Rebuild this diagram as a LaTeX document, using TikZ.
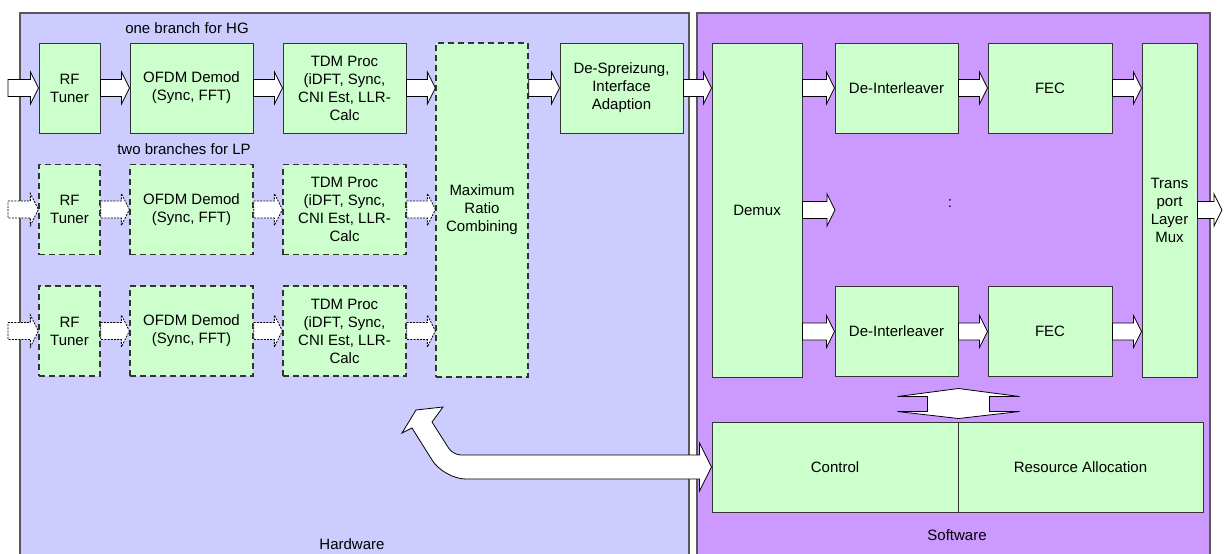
\documentclass[tikz,border=0pt]{standalone}
\usepackage{fontspec}
\setmainfont{Liberation Sans}
\usetikzlibrary{calc}
\definecolor{hwfill}{HTML}{CCCCFF}
\definecolor{swfill}{HTML}{CC99FF}
\definecolor{blkfill}{HTML}{CCFFCC}
\definecolor{edge}{HTML}{333333}
% block arrow from #2 to the x of #3, at the height of #2
\newcommand\blockarrow[3][]{%
  \draw[blockarr,#1] let \p1=(#2), \p2=(#3) in
    (\x1,\y1+4.25pt) -- (\x2-4pt,\y1+4.25pt) -- (\x2-4pt,\y1+8pt) -- (\x2,\y1)
    -- (\x2-4pt,\y1-8pt) -- (\x2-4pt,\y1-4.25pt) -- (\x1,\y1-4.25pt) -- cycle;}
\begin{document}
\begin{tikzpicture}[x=.5pt,y=-.5pt,line width=.5pt,
  font=\fontsize{7.5}{9}\selectfont,
  panel/.style={draw=black!65,line width=.6pt},
  blk/.style={draw=edge,fill=blkfill,inner sep=0pt,align=center,minimum height=45pt},
  dashblk/.style={blk,line width=.65pt,dash pattern=on 3pt off 2pt},
  blockarr/.style={draw=black,fill=white,line width=.4pt},
  dotarr/.style={dash pattern=on 1pt off .6pt}]
  \useasboundingbox (0,0) rectangle (1226,553);
  \clip (0,0) rectangle (1226,553);
  % hardware / software panels
  \draw[panel,fill=hwfill] (20,13) rectangle (689,580);
  \draw[panel,fill=swfill] (697,13) rectangle (1210,580);
  \node (hwlabel) at (352,544) {Hardware};
  \node (swlabel) at (957,535) {Software};
  \node (hglabel) at (187,28) {one branch for HG};
  \node (lplabel) at (184,149) {two branches for LP};
  % combining and the software chain
  \node[dashblk,minimum width=46pt,minimum height=167pt] (mrc) at (482,210)
    {Maximum\\Ratio\\Combining};
  \node[blk,minimum width=61.5pt] (desp) at (621.5,88)
    {De-Spreizung,\\Interface\\Adaption};
  \node[blk,minimum width=45pt,minimum height=167pt] (demux) at (757,210) {Demux};
  \node[blk,minimum width=27.5pt,minimum height=167pt] (mux) at (1169.5,210)
    {Trans\\port\\Layer\\Mux};
  \foreach \r/\cy in {1/88,2/331.5}{
    \node[blk,minimum width=61.5pt] (deint\r) at (896.5,\cy) {De-Interleaver};
    \node[blk,minimum width=62pt] (fec\r) at (1050,\cy) {FEC};
    \blockarrow{demux.east|-deint\r.west}{deint\r.west}
    \blockarrow{deint\r.east}{fec\r.west}
    \blockarrow{fec\r.east}{mux.west}
  }
  \node (dots) at (950,204) {:};
  \coordinate (midend) at (835,210);
  \coordinate (out) at (1222,210);
  \blockarrow{demux.east}{midend}
  \blockarrow{mux.east}{out}
  \blockarrow{mrc.east|-desp.west}{desp.west}
  \blockarrow{desp.east}{demux.west}
  % receiver branches
  \foreach \r/\cy/\sty/\asty in {1/88/blk/solid,2/209.5/dashblk/dotarr,3/331/dashblk/dotarr}{
    \coordinate (in\r) at (8,\cy);
    \node[\sty,minimum width=30.5pt] (rf\r) at (69.5,\cy) {RF\\Tuner};
    \node[\sty,minimum width=61.5pt] (ofdm\r) at (191.5,\cy) {OFDM Demod\\(Sync, FFT)};
    \node[\sty,minimum width=61.5pt] (tdm\r) at (344.5,\cy)
      {TDM Proc\\(iDFT, Sync,\\CNI Est, LLR-\\Calc};
    \blockarrow[\asty]{in\r}{rf\r.west}
    \blockarrow[\asty]{rf\r.east}{ofdm\r.west}
    \blockarrow[\asty]{ofdm\r.east}{tdm\r.west}
    \blockarrow[\asty]{tdm\r.east}{mrc.west}
  }
  % control
  \node[blk,minimum width=123pt] (ctrl) at (835,467) {Control};
  \node[blk,minimum width=122.5pt] (res) at (1080.5,467) {Resource Allocation};
  \coordinate (ud) at ($(ctrl.north east)+(0,-3)$);
  \draw[blockarr] (ud) -- ++(61,-7) -- ++(-30,0) -- ++(0,-15) -- ++(30,0)
    -- ++(-61,-8) -- ++(-61,8) -- ++(30,0) -- ++(0,15) -- ++(-30,0) -- cycle;
  \coordinate (hwtip) at (416,410);
  \draw[blockarr] (ctrl.west) -- ++(-12,-24) -- ++(0,12)
    [rounded corners=4pt] -- ($(hwtip)+(37,45)$) [sharp corners] -- ($(hwtip)+(16,12)$)
    -- ($(hwtip)+(27,-3)$) -- (hwtip) -- ($(hwtip)+(-14,23)$) -- ($(hwtip)+(-4,18)$)
    [rounded corners=11pt] -- ($(hwtip)+(28,69)$) [sharp corners] -- ($(ctrl.west)+(-12,12)$)
    -- ++(0,12) -- cycle;
\end{tikzpicture}
\end{document}
